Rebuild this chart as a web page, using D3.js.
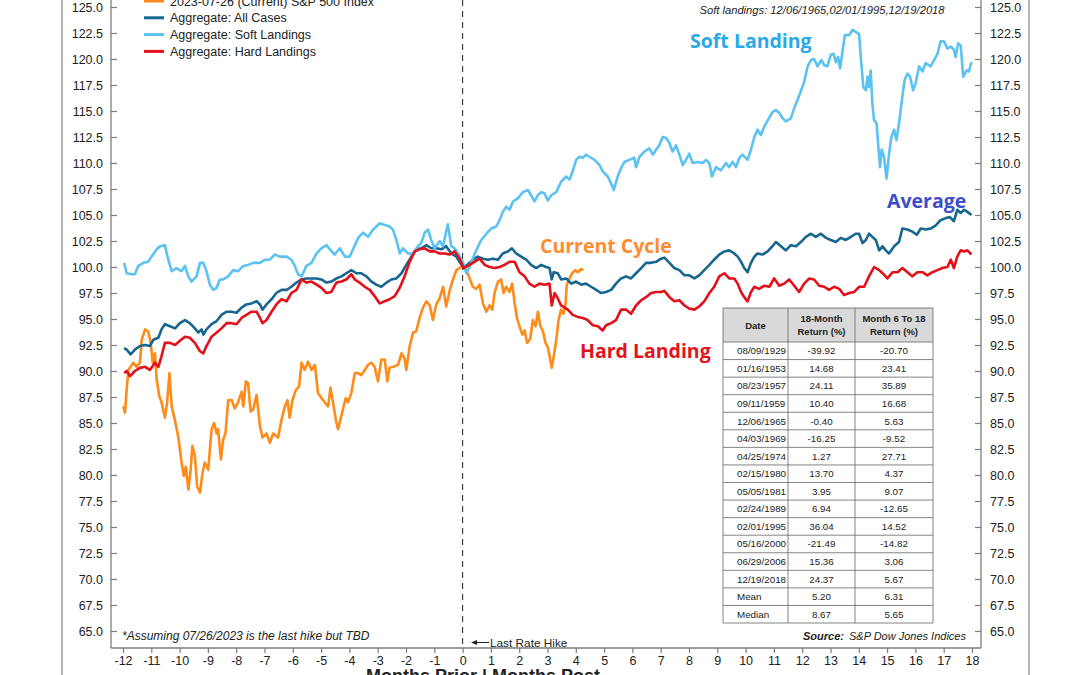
<!DOCTYPE html>
<html>
<head>
<meta charset="utf-8">
<script src="https://cdn.jsdelivr.net/npm/d3@7"></script>
<style>
body { margin: 0; background: #fff; }
text { font-family: 'Liberation Sans', Arial, Helvetica, sans-serif; fill: #222; }
</style>
</head>
<body>
<script>
// Series, [month relative to last hike, index level]
var currentCycle = [[-11.99,86.6],[-11.93,86.0],[-11.87,88.2],[-11.81,90.1],[-11.73,90.4],[-11.64,90.8],[-11.52,90.4],[-11.40,90.8],[-11.34,93.0],[-11.22,94.0],[-11.11,93.8],[-11.02,92.7],[-10.95,90.8],[-10.87,91.7],[-10.81,89.2],[-10.72,87.6],[-10.64,87.0],[-10.52,85.5],[-10.44,87.0],[-10.36,89.8],[-10.28,86.6],[-10.16,85.2],[-10.05,83.7],[-9.93,81.2],[-9.85,79.9],[-9.78,80.8],[-9.69,78.6],[-9.61,80.5],[-9.55,82.8],[-9.46,81.8],[-9.38,78.9],[-9.28,78.3],[-9.19,80.2],[-9.11,81.2],[-8.99,80.5],[-8.87,84.4],[-8.78,85.0],[-8.69,84.0],[-8.64,84.4],[-8.54,81.5],[-8.46,83.4],[-8.38,84.0],[-8.28,87.2],[-8.16,87.2],[-8.05,86.4],[-7.93,87.0],[-7.81,88.0],[-7.75,86.6],[-7.66,89.0],[-7.58,88.8],[-7.49,86.1],[-7.40,86.3],[-7.28,87.7],[-7.16,84.7],[-7.07,83.6],[-6.93,84.0],[-6.81,83.1],[-6.69,84.0],[-6.52,83.6],[-6.40,85.3],[-6.28,86.6],[-6.19,87.2],[-6.11,85.5],[-6.01,87.2],[-5.89,88.2],[-5.78,88.5],[-5.69,90.8],[-5.58,90.1],[-5.46,90.9],[-5.34,90.1],[-5.22,90.6],[-5.11,87.9],[-4.99,87.4],[-4.87,87.0],[-4.75,86.6],[-4.67,88.4],[-4.58,87.0],[-4.48,85.3],[-4.40,84.4],[-4.32,85.3],[-4.22,86.4],[-4.13,87.4],[-4.05,87.0],[-3.93,87.9],[-3.81,89.8],[-3.69,89.8],[-3.58,89.6],[-3.46,90.1],[-3.34,90.6],[-3.22,90.8],[-3.11,90.4],[-2.99,89.0],[-2.87,91.1],[-2.75,91.1],[-2.66,89.0],[-2.58,90.3],[-2.46,90.4],[-2.28,90.6],[-2.16,91.7],[-2.05,91.2],[-1.99,90.1],[-1.87,92.4],[-1.75,93.7],[-1.64,93.8],[-1.52,95.1],[-1.40,96.1],[-1.28,96.7],[-1.16,96.3],[-1.05,94.9],[-0.93,96.4],[-0.81,97.0],[-0.69,98.1],[-0.58,96.2],[-0.46,97.7],[-0.34,98.8],[-0.22,99.7],[-0.11,99.9],[0.01,100.1],[0.13,99.7],[0.25,98.9],[0.36,98.1],[0.48,97.9],[0.60,98.3],[0.72,96.5],[0.84,95.7],[0.95,96.3],[1.05,95.9],[1.13,97.5],[1.25,98.6],[1.36,98.8],[1.45,97.5],[1.54,98.1],[1.66,97.6],[1.75,98.4],[1.84,96.5],[1.92,95.1],[2.01,94.3],[2.11,93.5],[2.19,93.9],[2.28,92.7],[2.39,93.1],[2.48,94.9],[2.58,94.3],[2.66,95.7],[2.75,94.3],[2.84,93.8],[2.93,92.7],[3.01,92.3],[3.09,91.2],[3.15,90.3],[3.22,91.4],[3.31,93.0],[3.39,94.9],[3.48,95.9],[3.56,95.5],[3.64,96.5],[3.68,98.3],[3.78,98.9],[3.87,99.4],[3.98,99.7],[4.07,99.5],[4.19,99.8],[4.27,99.7]];

var allCases = [[-11.96,92.2],[-11.87,92.05],[-11.73,91.6],[-11.58,92.05],[-11.40,92.4],[-11.22,92.5],[-11.05,92.4],[-10.93,93.0],[-10.75,93.2],[-10.64,94.0],[-10.52,94.5],[-10.34,94.3],[-10.16,94.1],[-9.99,94.6],[-9.81,94.9],[-9.64,94.6],[-9.46,94.1],[-9.34,93.7],[-9.22,94.0],[-9.16,93.5],[-9.05,94.0],[-8.87,94.5],[-8.69,94.8],[-8.52,95.4],[-8.34,95.7],[-8.16,95.7],[-7.99,95.6],[-7.81,96.1],[-7.64,96.4],[-7.46,96.5],[-7.28,96.7],[-7.16,96.4],[-7.07,95.9],[-6.93,96.4],[-6.75,96.9],[-6.58,97.5],[-6.40,97.8],[-6.22,97.8],[-6.05,98.1],[-5.87,98.5],[-5.69,98.8],[-5.52,98.9],[-5.34,98.9],[-5.16,98.9],[-4.99,98.8],[-4.81,98.5],[-4.64,98.6],[-4.46,98.9],[-4.28,99.1],[-4.11,99.4],[-3.93,99.7],[-3.75,99.4],[-3.58,99.4],[-3.40,99.1],[-3.22,98.6],[-3.05,98.3],[-2.87,98.1],[-2.69,98.5],[-2.52,98.8],[-2.34,98.9],[-2.16,99.4],[-1.99,100.2],[-1.81,101.0],[-1.64,101.7],[-1.46,101.8],[-1.28,102.1],[-1.11,101.8],[-0.93,101.8],[-0.75,101.7],[-0.58,102.0],[-0.40,101.3],[-0.22,101.0],[-0.11,100.5],[0.04,99.9],[0.25,100.4],[0.36,100.7],[0.54,101.0],[0.72,100.8],[0.89,100.7],[1.07,100.8],[1.25,100.7],[1.42,101.3],[1.60,101.5],[1.74,101.8],[1.89,101.3],[2.07,101.0],[2.25,100.7],[2.42,100.2],[2.60,99.9],[2.78,100.2],[2.95,100.0],[3.07,99.9],[3.15,98.8],[3.22,99.5],[3.36,99.4],[3.48,98.8],[3.66,98.9],[3.84,98.4],[4.01,98.6],[4.19,98.3],[4.36,98.4],[4.54,98.1],[4.72,97.8],[4.89,97.5],[5.07,97.6],[5.25,97.8],[5.42,98.4],[5.60,98.9],[5.78,99.1],[5.95,98.9],[6.13,99.4],[6.31,99.9],[6.48,100.4],[6.66,100.4],[6.84,100.5],[7.01,100.8],[7.13,100.9],[7.31,100.4],[7.48,99.9],[7.66,99.7],[7.84,99.2],[8.01,99.2],[8.19,98.9],[8.36,99.2],[8.54,99.7],[8.72,100.2],[8.89,100.7],[9.07,101.2],[9.25,101.5],[9.42,101.6],[9.60,101.3],[9.72,101.0],[9.84,100.5],[9.95,99.9],[10.07,99.5],[10.19,100.4],[10.31,101.0],[10.42,101.3],[10.60,101.2],[10.78,101.5],[10.95,102.0],[11.07,102.4],[11.25,102.0],[11.42,101.6],[11.60,102.1],[11.78,102.0],[11.95,102.4],[12.13,102.9],[12.31,103.2],[12.48,102.9],[12.66,103.2],[12.84,102.8],[13.01,102.6],[13.19,102.4],[13.36,102.8],[13.54,102.6],[13.72,102.9],[13.89,103.2],[14.01,103.2],[14.13,102.3],[14.25,102.6],[14.36,103.2],[14.48,102.9],[14.60,102.6],[14.72,101.6],[14.84,102.0],[14.95,101.6],[15.07,101.3],[15.25,102.0],[15.42,102.4],[15.54,103.7],[15.72,103.6],[15.89,103.4],[16.05,103.1],[16.19,103.7],[16.36,103.6],[16.54,103.7],[16.72,104.0],[16.89,104.5],[17.07,104.7],[17.22,104.8],[17.36,104.4],[17.48,105.5],[17.60,105.2],[17.72,105.5],[17.84,105.3],[17.98,105.0]];

var softLandings = [[-11.96,100.4],[-11.87,99.4],[-11.69,99.3],[-11.58,99.3],[-11.46,100.1],[-11.28,100.4],[-11.11,100.5],[-10.99,101.0],[-10.81,101.7],[-10.69,102.0],[-10.52,102.1],[-10.40,100.7],[-10.28,99.6],[-10.11,99.9],[-9.93,99.6],[-9.81,100.1],[-9.69,99.1],[-9.58,98.6],[-9.40,99.1],[-9.28,100.4],[-9.16,100.4],[-9.05,99.6],[-8.93,98.3],[-8.81,97.8],[-8.69,98.0],[-8.58,98.8],[-8.46,98.8],[-8.28,99.1],[-8.11,99.7],[-7.93,99.6],[-7.75,100.1],[-7.58,100.2],[-7.40,100.4],[-7.16,100.4],[-6.99,100.7],[-6.81,100.7],[-6.64,101.2],[-6.46,101.0],[-6.22,101.0],[-6.05,100.7],[-5.93,100.1],[-5.81,99.3],[-5.69,99.1],[-5.52,100.1],[-5.34,100.4],[-5.16,101.3],[-4.99,101.8],[-4.81,102.1],[-4.69,101.7],[-4.52,101.2],[-4.34,101.8],[-4.16,101.0],[-3.99,101.0],[-3.87,101.7],[-3.69,102.8],[-3.52,103.3],[-3.34,102.9],[-3.16,103.6],[-2.93,104.2],[-2.58,103.9],[-2.46,103.6],[-2.34,102.6],[-2.22,101.3],[-2.11,101.8],[-1.93,101.3],[-1.75,101.3],[-1.58,102.0],[-1.46,102.3],[-1.34,103.3],[-1.22,103.6],[-1.11,102.6],[-0.99,101.8],[-0.81,102.5],[-0.69,102.0],[-0.58,103.4],[-0.52,104.1],[-0.40,102.0],[-0.28,101.8],[-0.16,101.3],[0.01,100.5],[0.13,99.4],[0.25,100.0],[0.36,100.8],[0.48,101.6],[0.66,102.6],[0.84,103.2],[1.01,103.7],[1.19,103.9],[1.31,104.5],[1.42,105.3],[1.54,105.8],[1.66,105.5],[1.78,106.3],[1.95,106.6],[2.13,107.2],[2.31,107.4],[2.42,106.9],[2.54,106.3],[2.66,106.9],[2.78,107.2],[2.89,107.1],[3.01,106.4],[3.13,106.9],[3.31,107.2],[3.48,108.2],[3.66,108.7],[3.78,108.4],[3.89,109.2],[4.01,110.3],[4.13,110.6],[4.25,110.5],[4.36,110.8],[4.48,110.6],[4.66,110.3],[4.84,109.8],[4.95,109.2],[5.13,108.7],[5.25,108.0],[5.34,107.4],[5.48,108.7],[5.60,109.5],[5.72,110.1],[5.89,110.3],[6.07,110.5],[6.13,109.6],[6.25,110.6],[6.42,111.1],[6.60,111.4],[6.72,110.8],[6.84,111.3],[6.95,111.7],[7.07,112.5],[7.19,112.4],[7.31,111.9],[7.42,111.1],[7.54,111.7],[7.66,110.8],[7.78,109.8],[7.89,110.3],[8.01,110.9],[8.13,110.0],[8.31,110.1],[8.48,110.0],[8.60,110.3],[8.72,110.0],[8.81,108.7],[8.95,109.6],[9.13,109.3],[9.31,110.0],[9.42,109.6],[9.54,110.1],[9.66,109.6],[9.78,110.5],[9.89,110.8],[10.07,110.3],[10.19,111.3],[10.31,112.5],[10.42,113.2],[10.54,112.7],[10.66,113.5],[10.78,114.1],[10.95,114.9],[11.07,115.1],[11.19,114.8],[11.31,114.3],[11.42,114.0],[11.60,114.3],[11.72,115.3],[11.84,116.1],[11.95,116.9],[12.07,117.8],[12.19,119.3],[12.31,119.9],[12.42,120.0],[12.54,119.3],[12.68,119.9],[12.78,119.4],[12.89,119.3],[13.01,120.4],[13.11,120.5],[13.19,119.7],[13.27,120.2],[13.34,119.1],[13.42,120.7],[13.51,122.3],[13.66,122.3],[13.78,122.8],[13.89,122.6],[14.01,122.4],[14.07,120.2],[14.16,117.3],[14.25,117.0],[14.31,118.3],[14.36,117.3],[14.42,118.9],[14.48,115.7],[14.54,114.1],[14.63,113.8],[14.69,111.6],[14.75,109.6],[14.81,111.3],[14.89,110.6],[14.98,108.5],[15.07,110.9],[15.15,112.5],[15.25,113.2],[15.33,112.2],[15.42,113.8],[15.54,116.4],[15.62,118.0],[15.72,118.6],[15.81,118.3],[15.92,117.0],[16.01,117.7],[16.13,119.3],[16.25,118.8],[16.36,119.6],[16.54,119.3],[16.66,119.9],[16.78,120.5],[16.89,121.7],[17.01,121.7],[17.13,121.0],[17.25,121.2],[17.36,120.9],[17.42,120.2],[17.51,121.5],[17.60,121.3],[17.69,118.3],[17.81,118.9],[17.89,118.8],[17.98,119.7]];

var hardLandings = [[-11.96,89.8],[-11.87,90.0],[-11.75,89.5],[-11.58,90.0],[-11.40,90.3],[-11.22,90.4],[-11.05,90.1],[-10.87,90.8],[-10.75,90.4],[-10.64,91.4],[-10.52,92.7],[-10.34,92.7],[-10.16,92.5],[-9.99,92.9],[-9.81,93.3],[-9.64,93.2],[-9.46,92.7],[-9.28,91.9],[-9.16,91.7],[-9.05,92.4],[-8.87,93.3],[-8.69,93.7],[-8.52,94.1],[-8.34,94.6],[-8.16,94.6],[-7.99,94.5],[-7.81,95.1],[-7.64,95.4],[-7.46,95.7],[-7.28,95.7],[-7.16,95.1],[-7.07,94.6],[-6.93,94.9],[-6.75,95.7],[-6.58,96.4],[-6.40,96.9],[-6.22,96.7],[-6.05,97.5],[-5.87,97.8],[-5.69,98.8],[-5.52,98.5],[-5.34,98.6],[-5.16,98.3],[-4.99,98.0],[-4.81,97.5],[-4.64,97.6],[-4.46,98.5],[-4.28,98.6],[-4.11,98.8],[-3.93,99.3],[-3.81,98.8],[-3.64,98.5],[-3.46,98.1],[-3.28,97.8],[-3.11,97.2],[-2.93,96.5],[-2.75,96.7],[-2.58,96.9],[-2.40,97.2],[-2.22,98.0],[-2.05,99.1],[-1.87,100.5],[-1.69,101.5],[-1.52,101.7],[-1.34,101.8],[-1.16,101.5],[-0.99,101.5],[-0.81,101.3],[-0.64,101.3],[-0.46,101.2],[-0.28,101.5],[-0.13,100.9],[0.04,99.9],[0.25,100.2],[0.36,100.4],[0.60,100.8],[0.78,100.2],[0.95,100.0],[1.13,99.9],[1.31,100.0],[1.48,100.2],[1.66,100.5],[1.84,100.5],[2.01,99.5],[2.19,99.1],[2.36,98.4],[2.54,98.1],[2.72,98.4],[2.89,98.3],[3.07,98.4],[3.15,96.3],[3.25,97.5],[3.36,97.0],[3.48,96.3],[3.72,95.9],[3.89,95.4],[4.07,95.2],[4.25,95.1],[4.42,94.9],[4.60,94.4],[4.78,94.3],[4.95,93.9],[5.07,94.4],[5.25,94.6],[5.42,94.9],[5.60,95.9],[5.78,95.9],[5.95,95.5],[6.13,96.3],[6.31,96.8],[6.48,97.1],[6.66,97.5],[6.84,97.6],[7.01,97.6],[7.13,97.7],[7.31,97.1],[7.48,96.7],[7.66,96.8],[7.84,96.3],[8.01,96.0],[8.19,95.9],[8.36,96.2],[8.54,96.7],[8.72,97.5],[8.89,98.1],[9.07,99.1],[9.25,99.4],[9.42,98.9],[9.60,98.9],[9.72,98.4],[9.84,97.6],[9.95,97.1],[10.07,96.7],[10.19,97.6],[10.31,98.1],[10.48,97.9],[10.66,98.2],[10.84,98.1],[11.01,98.9],[11.19,98.2],[11.36,98.4],[11.54,98.8],[11.72,98.2],[11.89,97.6],[12.07,98.4],[12.25,98.9],[12.42,98.8],[12.60,98.2],[12.78,98.1],[12.95,97.8],[13.13,98.1],[13.31,97.9],[13.48,97.3],[13.66,97.5],[13.84,97.6],[14.01,98.1],[14.19,98.1],[14.36,99.1],[14.54,100.0],[14.72,99.7],[14.84,99.4],[15.01,98.9],[15.19,99.5],[15.37,99.5],[15.54,99.9],[15.72,99.5],[15.89,99.1],[16.07,99.5],[16.25,99.5],[16.42,99.2],[16.60,99.5],[16.78,99.7],[16.95,99.9],[17.13,100.0],[17.25,100.7],[17.36,99.9],[17.48,101.0],[17.60,101.6],[17.72,101.5],[17.84,101.6],[17.98,101.2]];

var seriesNames = ['2023-07-26 (Current) S&P 500 Index', 'Aggregate: All Cases', 'Aggregate: Soft Landings', 'Aggregate: Hard Landings'];
var seriesColors = ['#ff8c1a', '#17668f', '#5bc2f2', '#e3101a'];

// Axis ticks
var xTicks = [-12,-11,-10,-9,-8,-7,-6,-5,-4,-3,-2,-1,0,1,2,3,4,5,6,7,8,9,10,11,12,13,14,15,16,17,18];
var yTicks = [65,67.5,70,72.5,75,77.5,80,82.5,85,87.5,90,92.5,95,97.5,100,102.5,105,107.5,110,112.5,115,117.5,120,122.5,125];

// Table
var tableDates = ['08/09/1929','01/16/1953','08/23/1957','09/11/1959','12/06/1965','04/03/1969','04/25/1974','02/15/1980','05/05/1981','02/24/1989','02/01/1995','05/16/2000','06/29/2006','12/19/2018','Mean','Median'];
var return18 = ['-39.92','14.68','24.11','10.40','-0.40','-16.25','1.27','13.70','3.95','6.94','36.04','-21.49','15.36','24.37','5.20','8.67'];
var return6to18 = ['-20.70','23.41','35.89','16.68','5.63','-9.52','27.71','4.37','9.07','-12.65','14.52','-14.82','3.06','5.67','6.31','5.65'];

var w = 1080,
    h = 675;
var left = 111, right = 981, bottom = 648;
var axisColor = '#7d7d7d';

var svg = d3.select('body')
    .append('svg')
    .attr('width', w)
    .attr('height', h)
    .style('display', 'block');

svg.append('rect').attr('width', w).attr('height', h).attr('fill', '#fff');

var x = d3.scaleLinear().domain([-12, 18]).range([123, 972]);
var y = d3.scaleLinear().domain([65, 125]).range([631, 7]);

// outer frame
[62, 1029].forEach(function(fx) {
    svg.append('line')
        .attr('x1', fx).attr('x2', fx)
        .attr('y1', 0).attr('y2', h)
        .attr('stroke', '#9a9a9a')
        .attr('stroke-width', 1.5);
});

// axes
var yLeft = svg.append('g')
    .attr('transform', 'translate(' + left + ',0)')
    .call(d3.axisLeft(y).tickValues(yTicks).tickSize(-6).tickPadding(8)
        .tickFormat(function(d) { return d.toFixed(1); }));
var yRight = svg.append('g')
    .attr('transform', 'translate(' + right + ',0)')
    .call(d3.axisRight(y).tickValues(yTicks).tickSize(-6).tickPadding(9)
        .tickFormat(function(d) { return d.toFixed(1); }));
var xAxis = svg.append('g')
    .attr('transform', 'translate(0,' + bottom + ')')
    .call(d3.axisBottom(x).tickValues(xTicks).tickSize(5).tickPadding(3)
        .tickFormat(function(d) { return String(d); }));

[yLeft, yRight, xAxis].forEach(function(g) {
    g.select('.domain').remove();
    g.selectAll('.tick line').attr('stroke', axisColor).attr('stroke-width', 1.2);
    g.selectAll('.tick text')
        .attr('fill', '#222')
        .style('font-family', "'Liberation Sans', Arial, sans-serif")
        .style('font-size', '12.5px');
});

svg.append('line').attr('x1', left).attr('x2', left).attr('y1', 0).attr('y2', bottom)
    .attr('stroke', axisColor).attr('stroke-width', 1.3);
svg.append('line').attr('x1', right).attr('x2', right).attr('y1', 0).attr('y2', bottom)
    .attr('stroke', axisColor).attr('stroke-width', 1.3);
svg.append('line').attr('x1', left).attr('x2', right).attr('y1', bottom).attr('y2', bottom)
    .attr('stroke', axisColor).attr('stroke-width', 1.3);

// last rate hike marker
svg.append('line')
    .attr('x1', x(0)).attr('x2', x(0))
    .attr('y1', 0).attr('y2', bottom)
    .attr('stroke', '#333')
    .attr('stroke-width', 1.1)
    .attr('stroke-dasharray', '6,5');

// series
var line = d3.line()
    .x(function(d) { return x(d[0]); })
    .y(function(d) { return y(d[1]); });
var allSeries = [currentCycle, allCases, softLandings, hardLandings];
svg.append('g')
    .selectAll('path')
    .data(allSeries)
    .enter()
    .append('path')
    .attr('d', line)
    .attr('fill', 'none')
    .attr('stroke', function(d, i) { return seriesColors[i]; })
    .attr('stroke-width', 2.6)
    .attr('stroke-linejoin', 'round');

// legend
var legend = svg.append('g')
    .selectAll('g')
    .data(seriesNames)
    .enter()
    .append('g')
    .attr('transform', function(d, i) { return 'translate(144,' + (1 + i * 16.8) + ')'; });
legend.append('line')
    .attr('x1', 0).attr('x2', 20)
    .attr('stroke', function(d, i) { return seriesColors[i]; })
    .attr('stroke-width', 3);
legend.append('text')
    .attr('x', 26)
    .attr('y', 4.5)
    .style('font-size', '12.5px')
    .text(function(d) { return d; });

// notes
svg.append('text')
    .attr('x', 822).attr('y', 14)
    .attr('text-anchor', 'middle')
    .style('font-size', '11.2px')
    .style('font-style', 'italic')
    .text('Soft landings: 12/06/1965,02/01/1995,12/19/2018');

svg.append('text')
    .attr('x', 122).attr('y', 640)
    .style('font-size', '12px')
    .style('font-style', 'italic')
    .text('*Assuming 07/26/2023 is the last hike but TBD');

svg.append('line')
    .attr('x1', 474).attr('x2', 489)
    .attr('y1', 642.5).attr('y2', 642.5)
    .attr('stroke', '#222').attr('stroke-width', 1);
svg.append('path')
    .attr('d', 'M471,642.5L477,640L477,645Z')
    .attr('fill', '#222');
svg.append('text')
    .attr('x', 490).attr('y', 647)
    .style('font-size', '11.8px')
    .text('Last Rate Hike');

var src = svg.append('text')
    .attr('x', 803).attr('y', 640)
    .style('font-size', '11px')
    .style('font-style', 'italic');
src.append('tspan').style('font-weight', 'bold').text('Source:');
src.append('tspan').attr('dx', 5).text('S&P Dow Jones Indices');

svg.append('text')
    .attr('x', 483).attr('y', 682)
    .attr('text-anchor', 'middle')
    .style('font-size', '18px')
    .style('font-weight', 'bold')
    .text('Months Prior | Months Post');

// callouts
var callouts = [
    { t: 'Soft Landing', x: 690, y: 48, c: '#29a9ea' },
    { t: 'Average', x: 887, y: 208, c: '#3d4fcc' },
    { t: 'Current Cycle', x: 540, y: 253, c: '#ff8c2e' },
    { t: 'Hard Landing', x: 580, y: 358, c: '#e0141e' }
];
svg.append('g')
    .selectAll('text')
    .data(callouts)
    .enter()
    .append('text')
    .attr('x', function(d) { return d.x; })
    .attr('y', function(d) { return d.y; })
    .style('font-family', "'Open Sans', 'Noto Sans', sans-serif")
    .style('font-weight', 'bold')
    .style('font-size', '19.5px')
    .style('fill', function(d) { return d.c; })
    .text(function(d) { return d.t; });

// table
var cols = [723, 788, 855, 933];
var tTop = 308, headH = 34;
var rowY = d3.scaleBand().domain(d3.range(tableDates.length)).range([tTop + headH, 623]);
var tbl = svg.append('g');
tbl.append('rect')
    .attr('x', cols[0]).attr('y', tTop)
    .attr('width', cols[3] - cols[0]).attr('height', headH)
    .attr('fill', '#d9d9d9');
tbl.append('rect')
    .attr('x', cols[0]).attr('y', tTop + headH)
    .attr('width', cols[3] - cols[0]).attr('height', 623 - tTop - headH)
    .attr('fill', '#fff');
tbl.selectAll('.hline')
    .data(d3.range(tableDates.length + 1))
    .enter()
    .append('line')
    .attr('x1', cols[0]).attr('x2', cols[3])
    .attr('y1', function(d) { return d === tableDates.length ? 623 : rowY(d); })
    .attr('y2', function(d) { return d === tableDates.length ? 623 : rowY(d); })
    .attr('stroke', '#666').attr('stroke-width', 0.8);
tbl.append('line')
    .attr('x1', cols[0]).attr('x2', cols[3]).attr('y1', tTop).attr('y2', tTop)
    .attr('stroke', '#666').attr('stroke-width', 0.8);
tbl.selectAll('.vline')
    .data(cols)
    .enter()
    .append('line')
    .attr('x1', function(d) { return d; }).attr('x2', function(d) { return d; })
    .attr('y1', tTop).attr('y2', 623)
    .attr('stroke', '#666').attr('stroke-width', 0.8);

var headers = [['Date'], ['18-Month', 'Return (%)'], ['Month 6 To 18', 'Return (%)']];
headers.forEach(function(lines, i) {
    var cx = (cols[i] + cols[i + 1]) / 2;
    lines.forEach(function(s, j) {
        tbl.append('text')
            .attr('x', cx)
            .attr('y', lines.length === 1 ? tTop + 21 : tTop + 14 + j * 13)
            .attr('text-anchor', 'middle')
            .style('font-size', '9.5px')
            .style('font-weight', 'bold')
            .text(s);
    });
});
var bh = rowY.bandwidth();
tbl.selectAll('.c1')
    .data(tableDates)
    .enter()
    .append('text')
    .attr('x', cols[0] + 14)
    .attr('y', function(d, i) { return rowY(i) + bh / 2 + 3.5; })
    .style('font-size', '9.8px')
    .text(function(d) { return d; });
tbl.selectAll('.c2')
    .data(return18)
    .enter()
    .append('text')
    .attr('x', (cols[1] + cols[2]) / 2)
    .attr('y', function(d, i) { return rowY(i) + bh / 2 + 3.5; })
    .attr('text-anchor', 'middle')
    .style('font-size', '9.8px')
    .text(function(d) { return d; });
tbl.selectAll('.c3')
    .data(return6to18)
    .enter()
    .append('text')
    .attr('x', (cols[2] + cols[3]) / 2)
    .attr('y', function(d, i) { return rowY(i) + bh / 2 + 3.5; })
    .attr('text-anchor', 'middle')
    .style('font-size', '9.8px')
    .text(function(d) { return d; });
</script>
</body>
</html>
